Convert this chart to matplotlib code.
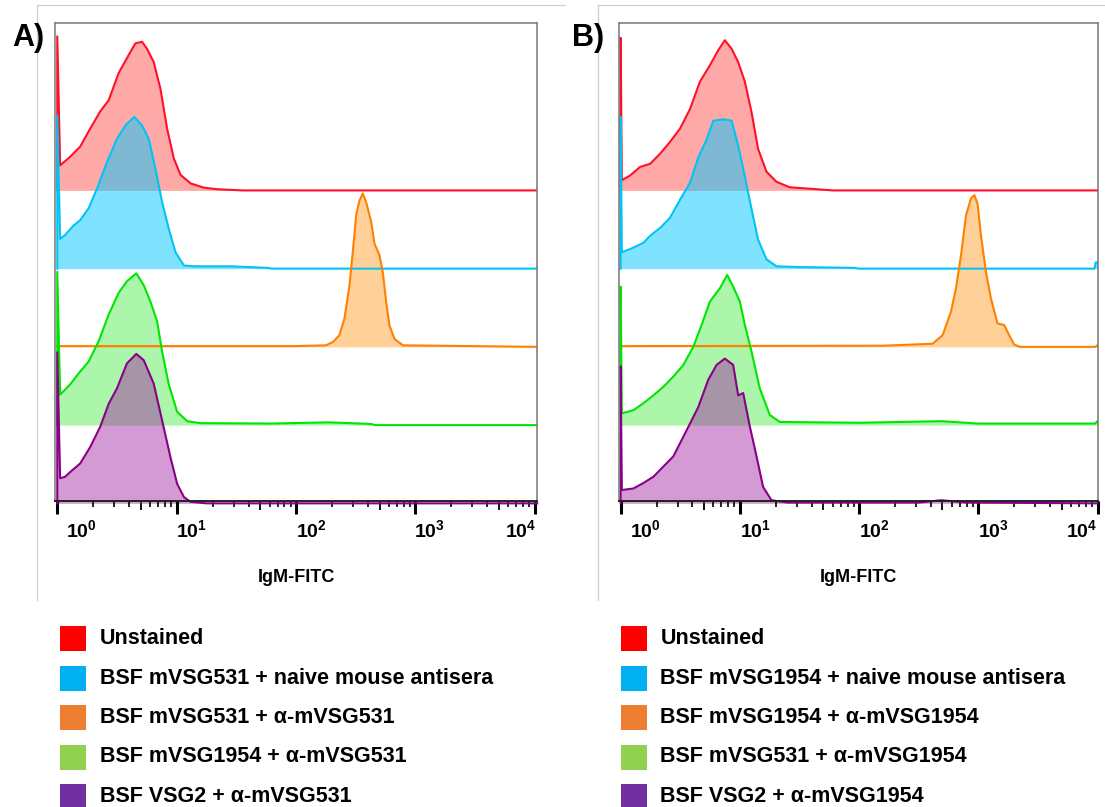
import matplotlib
matplotlib.use("Agg")
import matplotlib.pyplot as plt
from matplotlib.patches import Rectangle
from matplotlib.lines import Line2D
import numpy as np

plt.rcParams['font.family'] = ['Liberation Sans', 'DejaVu Sans']
plt.rcParams['mathtext.fontset'] = 'custom'
plt.rcParams['mathtext.rm'] = 'Liberation Sans'
plt.rcParams['mathtext.bf'] = 'Liberation Sans:bold'

# x values are log10(IgM-FITC), y values are histogram heights (one unit = one stack step)
# ---- panel A ----
a_red_x = [0, 0, 0.024, 0.108, 0.192, 0.276, 0.360, 0.430, 0.514, 0.598, 0.654, 0.710, 0.752, 0.808,
           0.864, 0.920, 0.976, 1.032, 1.116, 1.229, 1.340, 1.55, 4.02]
a_red_y = [0, 1.97, 0.32, 0.43, 0.56, 0.79, 1.01, 1.15, 1.50, 1.73, 1.88, 1.90, 1.81, 1.64,
           1.30, 0.79, 0.41, 0.20, 0.09, 0.035, 0.015, 0, 0]
a_cyan_x = [0, 0, 0.024, 0.066, 0.136, 0.192, 0.262, 0.332, 0.416, 0.500, 0.570, 0.645, 0.710, 0.766,
            0.822, 0.878, 0.934, 0.990, 1.061, 1.15, 1.45, 1.76, 1.80, 4.02]
a_cyan_y = [0, 1.96, 0.38, 0.43, 0.55, 0.62, 0.77, 1.02, 1.36, 1.66, 1.83, 1.94, 1.83, 1.66,
            1.28, 0.85, 0.51, 0.21, 0.04, 0.03, 0.03, 0.01, 0, 0]
a_orange_x = [0, 2.0, 2.25, 2.307, 2.363, 2.405, 2.447, 2.475, 2.503, 2.531, 2.559, 2.587, 2.629,
              2.657, 2.699, 2.727, 2.755, 2.783, 2.825, 2.895, 4.02]
a_orange_y = [0.01, 0.01, 0.02, 0.06, 0.15, 0.36, 0.78, 1.21, 1.68, 1.87, 1.96, 1.85, 1.60,
              1.32, 1.17, 0.95, 0.57, 0.27, 0.10, 0.02, 0]
a_green_x = [0, 0, 0.024, 0.108, 0.178, 0.262, 0.346, 0.430, 0.514, 0.584, 0.662, 0.724, 0.780,
             0.836, 0.878, 0.934, 1.004, 1.088, 1.20, 1.8, 2.27, 2.45, 2.63, 2.66, 4.02]
a_green_y = [0, 1.96, 0.39, 0.52, 0.66, 0.81, 1.07, 1.41, 1.69, 1.84, 1.94, 1.79, 1.58,
             1.33, 0.94, 0.52, 0.17, 0.05, 0.025, 0.02, 0.035, 0.025, 0.015, 0, 0]
a_purple_x = [0, 0, 0.024, 0.066, 0.108, 0.192, 0.276, 0.360, 0.430, 0.500, 0.584, 0.662, 0.724,
              0.808, 0.878, 0.948, 1.004, 1.061, 1.116, 1.25, 4.02]
a_purple_y = [0, 1.93, 0.32, 0.34, 0.40, 0.51, 0.72, 0.98, 1.27, 1.47, 1.79, 1.91, 1.83,
              1.53, 1.06, 0.59, 0.25, 0.08, 0.02, 0, 0]

# ---- panel B ----
b_red_x = [0, 0, 0.010, 0.079, 0.163, 0.247, 0.331, 0.414, 0.498, 0.582, 0.665, 0.749, 0.818, 0.874,
           0.931, 0.986, 1.042, 1.098, 1.153, 1.223, 1.307, 1.418, 1.6, 1.78, 4.0]
b_red_y = [0, 1.95, 0.13, 0.19, 0.30, 0.34, 0.47, 0.62, 0.79, 1.04, 1.39, 1.60, 1.79, 1.92,
           1.81, 1.64, 1.39, 1.00, 0.53, 0.24, 0.11, 0.04, 0.02, 0, 0]
b_cyan_x = [0, 0, 0.010, 0.079, 0.191, 0.247, 0.331, 0.414, 0.498, 0.582, 0.651, 0.721, 0.777, 0.860,
            0.931, 0.986, 1.042, 1.098, 1.153, 1.223, 1.307, 1.5, 1.96, 2.0, 3.975, 3.985, 4.0]
b_cyan_y = [0, 1.94, 0.21, 0.25, 0.33, 0.42, 0.52, 0.65, 0.88, 1.10, 1.42, 1.65, 1.89, 1.91,
            1.89, 1.57, 1.18, 0.76, 0.37, 0.12, 0.03, 0.02, 0.01, 0, 0, 0.08, 0.08]
b_orange_x = [0, 2.2, 2.617, 2.701, 2.771, 2.813, 2.855, 2.897, 2.939, 2.967, 2.994, 3.022, 3.064,
              3.106, 3.161, 3.217, 3.259, 3.301, 3.35, 3.98, 4.0]
b_orange_y = [0.01, 0.015, 0.04, 0.15, 0.45, 0.75, 1.17, 1.68, 1.90, 1.94, 1.83, 1.43, 0.96,
              0.62, 0.30, 0.28, 0.15, 0.03, 0, 0, 0.02]
b_green_x = [0, 0, 0.010, 0.107, 0.191, 0.275, 0.358, 0.442, 0.526, 0.609, 0.679, 0.749, 0.833,
             0.894, 0.944, 1.000, 1.042, 1.098, 1.167, 1.251, 1.335, 2.0, 2.69, 3.0, 3.98, 4.0]
b_green_y = [0, 1.77, 0.15, 0.19, 0.28, 0.38, 0.49, 0.62, 0.77, 1.00, 1.28, 1.58, 1.75,
             1.92, 1.77, 1.58, 1.28, 0.94, 0.47, 0.13, 0.04, 0.03, 0.05, 0.02, 0.02, 0.05]
b_purple_x = [0, 0, 0.010, 0.107, 0.191, 0.275, 0.358, 0.442, 0.512, 0.582, 0.651, 0.735, 0.805,
              0.874, 0.944, 0.986, 1.028, 1.084, 1.140, 1.195, 1.265, 1.4, 2.5, 2.69, 2.9, 4.0]
b_purple_y = [0, 1.75, 0.17, 0.19, 0.26, 0.34, 0.47, 0.60, 0.81, 1.02, 1.23, 1.58, 1.77,
              1.85, 1.77, 1.38, 1.41, 0.98, 0.60, 0.21, 0.04, 0.01, 0.01, 0.04, 0.01, 0]

# stack order (top to bottom) and their offsets
offsets = [4, 3, 2, 1, 0]
line_colors = ['#ff1028', '#00c4f4', '#ff8000', '#00e600', '#880088']
fill_colors = ['#ff0000', '#00c8ff', '#ff8c00', '#00e600', '#a020a0']
fill_alphas = [0.34, 0.5, 0.4, 0.33, 0.45]

tick_exps = [0, 1, 2, 3, 4]
legend_colors = ['#ff0000', '#00b0f0', '#ed7d31', '#92d050', '#7030a0']
legend_a = ['Unstained', 'BSF mVSG531 + naive mouse antisera', 'BSF mVSG531 + \u03b1-mVSG531',
            'BSF mVSG1954 + \u03b1-mVSG531', 'BSF VSG2 + \u03b1-mVSG531']
legend_b = ['Unstained', 'BSF mVSG1954 + naive mouse antisera', 'BSF mVSG1954 + \u03b1-mVSG1954',
            'BSF mVSG531 + \u03b1-mVSG1954', 'BSF VSG2 + \u03b1-mVSG1954']

W, H = 1105, 807
fig = plt.figure(figsize=(W / 100, H / 100), dpi=100)


def px_rect(x0, y0, x1, y1):
    # pixel box (top-left origin) -> figure fraction rect
    return [x0 / W, 1 - y1 / H, (x1 - x0) / W, (y1 - y0) / H]


def draw_panel(rect, curves, xlo, xhi, label_pos):
    ax = fig.add_axes(rect)
    ax.set_xscale('log')
    for i, (cx, cy) in enumerate(curves):
        x = 10 ** np.array(cx)
        y = np.array(cy) + offsets[i]
        ax.fill_between(x, offsets[i], y, color=fill_colors[i], alpha=fill_alphas[i], lw=0,
                        clip_on=(i != 4))
        ax.plot(x, y, color=line_colors[i], lw=1.5, solid_joinstyle='round', clip_on=(i != 4))
    ax.set_xlim(10 ** xlo, 10 ** xhi)
    ax.set_ylim(0.03, 6.14)
    ax.set_yticks([])
    for s in ['top', 'right', 'left']:
        ax.spines[s].set_color('#777777')
        ax.spines[s].set_linewidth(1.1)
    ax.spines['bottom'].set_color('#222222')
    ax.spines['bottom'].set_linewidth(1.4)
    ax.set_xticks([10 ** e for e in tick_exps])
    ax.xaxis.set_minor_locator(matplotlib.ticker.LogLocator(base=10, subs=[2, 3, 4, 6, 7, 8, 9]))
    ax.tick_params(axis='x', which='major', length=9, width=2.2, color='black', labelbottom=False)
    ax.tick_params(axis='x', which='minor', length=4, width=1.2, color='black', labelbottom=False)
    sec = ax.secondary_xaxis('bottom')
    sec.set_xticks([5 * 10 ** e for e in tick_exps[:-1]])
    sec.xaxis.set_minor_locator(matplotlib.ticker.NullLocator())
    sec.tick_params(axis='x', length=6.5, width=1.3, color='black', labelbottom=False)
    sec.spines['bottom'].set_visible(False)
    trans = ax.get_xaxis_transform()
    for e, p in zip(tick_exps, label_pos):
        ax.text(10 ** p, -0.06, r'$\mathbf{10^{%d}}$' % e, transform=trans, fontsize=14,
                ha='right' if e == 4 else 'left', va='center')
    ax.text(0.5, -0.16, 'IgM-FITC', transform=ax.transAxes, fontsize=13, fontweight='bold',
            ha='center', va='center')
    return ax


# light outer frames
frame_col = '#cfcfcf'
fig.add_artist(Line2D([37 / W, 37 / W], [1 - 5 / H, 1 - 600 / H], color=frame_col, lw=0.9))
fig.add_artist(Line2D([37 / W, 565 / W], [1 - 5 / H, 1 - 5 / H], color=frame_col, lw=0.9))
fig.add_artist(Line2D([598 / W, 598 / W], [1 - 5 / H, 1 - 600 / H], color=frame_col, lw=0.9))
fig.add_artist(Line2D([598 / W, 1 - 0.5 / W], [1 - 5 / H, 1 - 5 / H], color=frame_col, lw=0.9))

curves_a = [(a_red_x, a_red_y), (a_cyan_x, a_cyan_y), (a_orange_x, a_orange_y),
            (a_green_x, a_green_y), (a_purple_x, a_purple_y)]
curves_b = [(b_red_x, b_red_y), (b_cyan_x, b_cyan_y), (b_orange_x, b_orange_y),
            (b_green_x, b_green_y), (b_purple_x, b_purple_y)]

draw_panel(px_rect(55, 23, 537, 501), curves_a, -0.019, 4.018, [0.075, 0.995, 2.0, 2.99, 4.01])
draw_panel(px_rect(618.5, 23, 1097.5, 501), curves_b, -0.018, 3.992, [0.08, 1.0, 2.0, 3.0, 3.995])

fig.text(12 / W, 1 - 38 / H, 'A)', fontsize=22, fontweight='bold', ha='left', va='center')
fig.text(572 / W, 1 - 38 / H, 'B)', fontsize=22, fontweight='bold', ha='left', va='center')

# legends
row_y = [638, 678, 717.5, 757, 796.5]
for col_x, labels in [(59.5, legend_a), (620.5, legend_b)]:
    for yc, c, lab in zip(row_y, legend_colors, labels):
        fig.add_artist(Rectangle((col_x / W, 1 - (yc + 12.5) / H), 26 / W, 25 / H,
                                 transform=fig.transFigure, color=c, lw=0))
        fig.text((col_x + 40) / W, 1 - yc / H, lab, fontsize=15.5, fontweight='bold',
                 ha='left', va='center')

fig.savefig('out.png', dpi=100)
